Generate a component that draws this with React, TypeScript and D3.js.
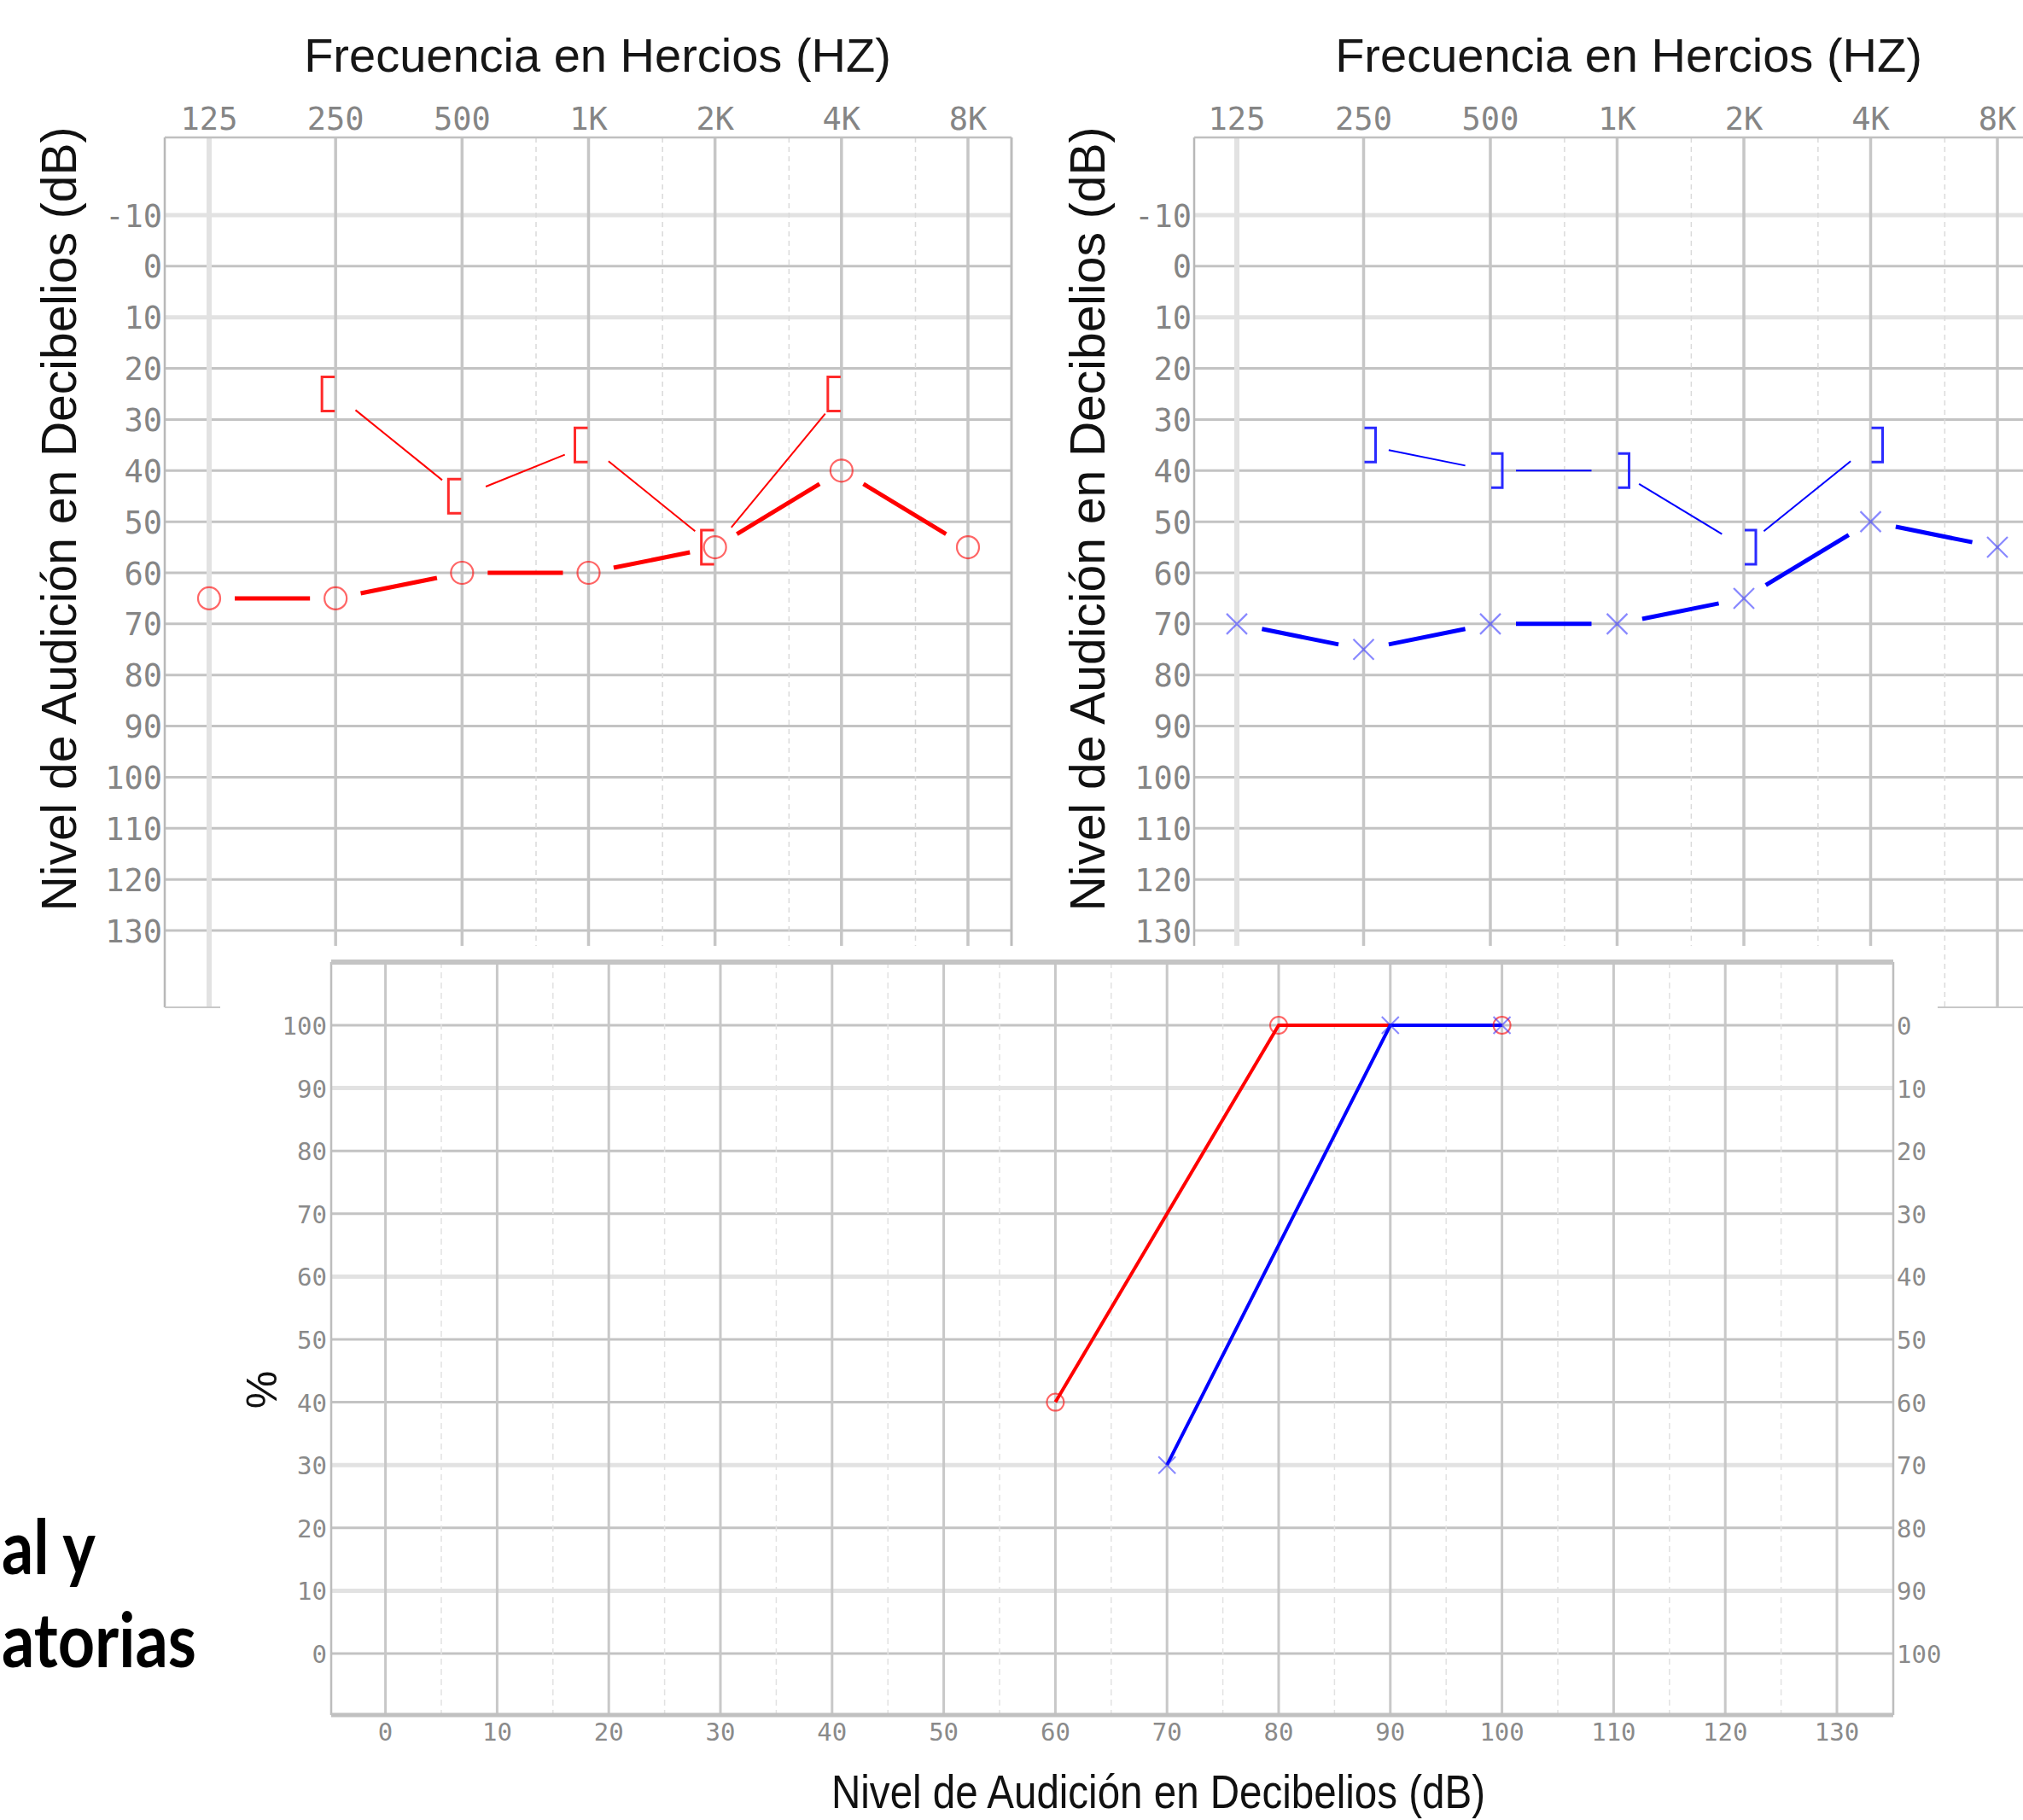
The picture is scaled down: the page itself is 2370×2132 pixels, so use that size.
import React from 'react';
import * as d3 from 'd3';

// ---------- data ----------
const FREQUENCIES = [125, 250, 500, 1000, 2000, 4000, 8000];
const FREQUENCY_LABELS = ['125', '250', '500', '1K', '2K', '4K', '8K'];
const MID_FREQUENCIES = [750, 1500, 3000, 6000];
const DB_TICKS = [-10, 0, 10, 20, 30, 40, 50, 60, 70, 80, 90, 100, 110, 120, 130];

// right ear (red): air conduction circles, bone conduction "["
const RIGHT_AIR_DB = [65, 65, 60, 60, 55, 40, 55];
const BONE_FREQUENCIES = [250, 500, 1000, 2000, 4000];
const RIGHT_BONE_DB = [25, 45, 35, 55, 25];

// left ear (blue): air conduction X, bone conduction "]"
const LEFT_AIR_DB = [70, 75, 70, 70, 65, 50, 55];
const LEFT_BONE_DB = [35, 40, 40, 55, 35];

// speech audiometry
const SPEECH_DB_TICKS = [0, 10, 20, 30, 40, 50, 60, 70, 80, 90, 100, 110, 120, 130];
const SPEECH_DB_MINOR = [5, 15, 25, 35, 45, 55, 65, 75, 85, 95, 105, 115, 125];
const SPEECH_PCT_TICKS = [0, 10, 20, 30, 40, 50, 60, 70, 80, 90, 100];
const RIGHT_SPEECH_DB = [60, 80, 100];
const RIGHT_SPEECH_PCT = [40, 100, 100];
const LEFT_SPEECH_DB = [70, 90, 100];
const LEFT_SPEECH_PCT = [30, 100, 100];

// ---------- styles ----------
const GRID_DARK = '#c3c3c3';
const GRID_LIGHT = '#e2e2e2';
const TICK_FONT = "'DejaVu Sans Mono', 'Liberation Mono', monospace";
const LABEL_FONT = "'Liberation Sans', Arial, sans-serif";
const TOP_LIGHT_DB = [-10, 10];
const TOP_LIGHT_FREQ = [125];
const BOTTOM_LIGHT_PCT = [90, 60, 30, 10];

type Pt = [number, number];

function trimSegments(pts: Pt[], gap: number) {
  const out: number[][] = [];
  for (let i = 1; i < pts.length; i++) {
    const a = pts[i - 1];
    const b = pts[i];
    const dx = b[0] - a[0];
    const dy = b[1] - a[1];
    const L = Math.hypot(dx, dy);
    const ux = dx / L;
    const uy = dy / L;
    out.push([a[0] + ux * gap, a[1] + uy * gap, b[0] - ux * gap, b[1] - uy * gap]);
  }
  return out;
}

function Audiogram(props: {
  frameLeft: number;
  frameRight: number;
  x125: number;
  x8000: number;
  titleX: number;
  yLabelX: number;
  air: number[];
  bone: number[];
  ear: 'right' | 'left';
}) {
  const { frameLeft, frameRight, x125, x8000, titleX, yLabelX, air, bone, ear } = props;
  const x = d3.scaleLog().base(2).domain([125, 8000]).range([x125, x8000]);
  const y = d3.scaleLinear().domain([-10, 130]).range([252, 1090]);
  const top = 161;
  const bottom = 1180;
  const lineColor = ear === 'right' ? '#ff0000' : '#0000ff';
  const markColor = ear === 'right' ? 'rgba(255,0,0,0.6)' : 'rgba(40,40,255,0.55)';
  const bracketColor = ear === 'right' ? '#ff2a2a' : '#2a2aff';

  const airPts: Pt[] = FREQUENCIES.map((f, i) => [x(f), y(air[i])]);
  const bonePts: Pt[] = BONE_FREQUENCIES.map((f, i) => [x(f), y(bone[i])]);
  const airSegs = trimSegments(airPts, 30);
  const boneSegs = trimSegments(bonePts, 30);

  return (
    <g>
      {DB_TICKS.map((v) => {
        const light = TOP_LIGHT_DB.includes(v);
        return (
          <line key={'h' + v} x1={frameLeft} x2={frameRight} y1={y(v)} y2={y(v)}
            stroke={light ? GRID_LIGHT : GRID_DARK} strokeWidth={light ? 5 : 3} />
        );
      })}
      {MID_FREQUENCIES.map((f) => (
        <line key={'m' + f} x1={x(f)} x2={x(f)} y1={top} y2={bottom}
          stroke="#dadada" strokeWidth={1.5} strokeDasharray="6,5" />
      ))}
      {FREQUENCIES.map((f) => {
        const light = TOP_LIGHT_FREQ.includes(f);
        return (
          <line key={'v' + f} x1={x(f)} x2={x(f)} y1={top} y2={bottom}
            stroke={light ? GRID_LIGHT : '#c6c6c6'} strokeWidth={light ? 6 : 3.5} />
        );
      })}
      <line x1={frameLeft} x2={frameLeft} y1={top} y2={bottom} stroke="#b8b8b8" strokeWidth={2.5} />
      <line x1={frameLeft} x2={frameRight} y1={top} y2={top} stroke="#c0c0c0" strokeWidth={2.5} />
      <line x1={frameRight} x2={frameRight} y1={top} y2={bottom} stroke="#bcbcbc" strokeWidth={3} />
      <line x1={frameLeft} x2={frameRight} y1={bottom} y2={bottom} stroke="#c8c8c8" strokeWidth={2} />

      {FREQUENCIES.map((f, i) => (
        <text key={'xl' + f} x={x(f)} y={152} textAnchor="middle" fontFamily={TICK_FONT}
          fontSize={37} fill="#858585">{FREQUENCY_LABELS[i]}</text>
      ))}
      {DB_TICKS.map((v) => (
        <text key={'yl' + v} x={frameLeft - 3} y={y(v) + 13.5} textAnchor="end" fontFamily={TICK_FONT}
          fontSize={37} fill="#858585">{String(v)}</text>
      ))}

      <text x={titleX} y={84} textAnchor="middle" fontFamily={LABEL_FONT} fontSize={56} fill="#161616">
        Frecuencia en Hercios (HZ)
      </text>
      <text transform={`translate(${yLabelX},608) rotate(-90)`} textAnchor="middle" fontFamily={LABEL_FONT}
        fontSize={57} fill="#111">
        Nivel de Audición en Decibelios (dB)
      </text>

      {boneSegs.map((s, i) => (
        <line key={'bs' + i} x1={s[0]} y1={s[1]} x2={s[2]} y2={s[3]} stroke={lineColor} strokeWidth={2} />
      ))}
      {airSegs.map((s, i) => (
        <line key={'as' + i} x1={s[0]} y1={s[1]} x2={s[2]} y2={s[3]} stroke={lineColor} strokeWidth={5} />
      ))}

      {bonePts.map(([px, py], i) => {
        const d = ear === 'right'
          ? `M${px - 1},${py - 20} H${px - 16} V${py + 20} H${px - 1}`
          : `M${px + 1},${py - 20} H${px + 14} V${py + 20} H${px + 1}`;
        return <path key={'bm' + i} d={d} fill="none" stroke={bracketColor} strokeWidth={3} />;
      })}
      {airPts.map(([px, py], i) =>
        ear === 'right' ? (
          <circle key={'am' + i} cx={px} cy={py} r={13} fill="none" stroke={markColor} strokeWidth={2.2} />
        ) : (
          <path key={'am' + i} d={`M${px - 12},${py - 12} L${px + 12},${py + 12} M${px - 12},${py + 12} L${px + 12},${py - 12}`}
            fill="none" stroke={markColor} strokeWidth={2.2} />
        )
      )}
    </g>
  );
}

function SpeechChart() {
  const x = d3.scaleLinear().domain([0, 130]).range([451.6, 2152]);
  const y = d3.scaleLinear().domain([0, 100]).range([1937, 1201]);
  const left = 388;
  const right = 2218;
  const top = 1127;
  const bottom = 2009;

  const line = d3.line<Pt>().x((d) => d[0]).y((d) => d[1]);
  const redPts: Pt[] = RIGHT_SPEECH_DB.map((v, i) => [x(v), y(RIGHT_SPEECH_PCT[i])]);
  const bluePts: Pt[] = LEFT_SPEECH_DB.map((v, i) => [x(v), y(LEFT_SPEECH_PCT[i])]);

  return (
    <g>
      <rect x={258} y={1108} width={2012} height={1024} fill="#fff" />
      {SPEECH_PCT_TICKS.map((v) => {
        const light = BOTTOM_LIGHT_PCT.includes(v);
        return (
          <line key={'h' + v} x1={left} x2={right} y1={y(v)} y2={y(v)}
            stroke={light ? GRID_LIGHT : GRID_DARK} strokeWidth={light ? 5 : 3} />
        );
      })}
      {SPEECH_DB_MINOR.map((v) => (
        <line key={'m' + v} x1={x(v)} x2={x(v)} y1={top} y2={bottom}
          stroke="#e2e2e2" strokeWidth={1.5} strokeDasharray="7,5" />
      ))}
      {SPEECH_DB_TICKS.map((v) => (
        <line key={'v' + v} x1={x(v)} x2={x(v)} y1={top} y2={bottom} stroke="#c8c8c8" strokeWidth={3} />
      ))}
      <line x1={left} x2={left} y1={top} y2={bottom} stroke="#bdbdbd" strokeWidth={2.5} />
      <line x1={right} x2={right} y1={top} y2={bottom} stroke="#bdbdbd" strokeWidth={2.5} />
      <line x1={left} x2={right} y1={top} y2={top} stroke="#c4c4c4" strokeWidth={6} />
      <line x1={left} x2={right} y1={bottom} y2={bottom} stroke="#c0c0c0" strokeWidth={5} />

      {SPEECH_PCT_TICKS.map((v) => (
        <text key={'ll' + v} x={left - 5} y={y(v) + 11} textAnchor="end" fontFamily={TICK_FONT}
          fontSize={29} fill="#8a8a8a">{String(v)}</text>
      ))}
      {SPEECH_PCT_TICKS.map((v) => (
        <text key={'rl' + v} x={right + 4} y={y(v) + 11} textAnchor="start" fontFamily={TICK_FONT}
          fontSize={29} fill="#8a8a8a">{String(100 - v)}</text>
      ))}
      {SPEECH_DB_TICKS.map((v) => (
        <text key={'xl' + v} x={x(v)} y={2039} textAnchor="middle" fontFamily={TICK_FONT}
          fontSize={29} fill="#8a8a8a">{String(v)}</text>
      ))}

      <path d={line(redPts) || ''} fill="none" stroke="#ff0000" strokeWidth={4} />
      <path d={line(bluePts) || ''} fill="none" stroke="#0000ff" strokeWidth={4} />
      {redPts.map(([px, py], i) => (
        <circle key={'rc' + i} cx={px} cy={py} r={10} fill="none" stroke="rgba(255,0,0,0.6)" strokeWidth={2} />
      ))}
      {bluePts.map(([px, py], i) => (
        <path key={'bx' + i} d={`M${px - 10},${py - 10} L${px + 10},${py + 10} M${px - 10},${py + 10} L${px + 10},${py - 10}`}
          fill="none" stroke="rgba(40,40,255,0.55)" strokeWidth={2} />
      ))}

      <text x={1357} y={2118} textAnchor="middle" fontFamily={LABEL_FONT} fontSize={55}
        textLength={766} lengthAdjust="spacingAndGlyphs" fill="#111">
        Nivel de Audición en Decibelios (dB)
      </text>
      <text transform="translate(324,1628) rotate(-90)" textAnchor="middle" fontFamily={LABEL_FONT}
        fontSize={50} fill="#111">%</text>
    </g>
  );
}

export default function App() {
  return (
    <div style={{ position: 'absolute', left: 0, top: 0 }}>
      <svg width={2370} height={2132} viewBox="0 0 2370 2132" style={{ display: 'block', background: '#fff' }}>
        <rect x={0} y={0} width={2370} height={2132} fill="#fff" />
        <Audiogram frameLeft={193} frameRight={1185} x125={245} x8000={1134} titleX={700} yLabelX={89}
          air={RIGHT_AIR_DB} bone={RIGHT_BONE_DB} ear="right" />
        <Audiogram frameLeft={1399} frameRight={2392} x125={1449} x8000={2340} titleX={1908} yLabelX={1294}
          air={LEFT_AIR_DB} bone={LEFT_BONE_DB} ear="left" />
        <SpeechChart />
        <text x={2} y={1844} textAnchor="start" fontFamily="Lato, 'Open Sans', sans-serif" fontWeight={700}
          fontSize={88} textLength={110} lengthAdjust="spacingAndGlyphs" fill="#000">al y</text>
        <text x={2} y={1953} textAnchor="start" fontFamily="Lato, 'Open Sans', sans-serif" fontWeight={700}
          fontSize={88} textLength={228} lengthAdjust="spacingAndGlyphs" fill="#000">atorias</text>
      </svg>
    </div>
  );
}
